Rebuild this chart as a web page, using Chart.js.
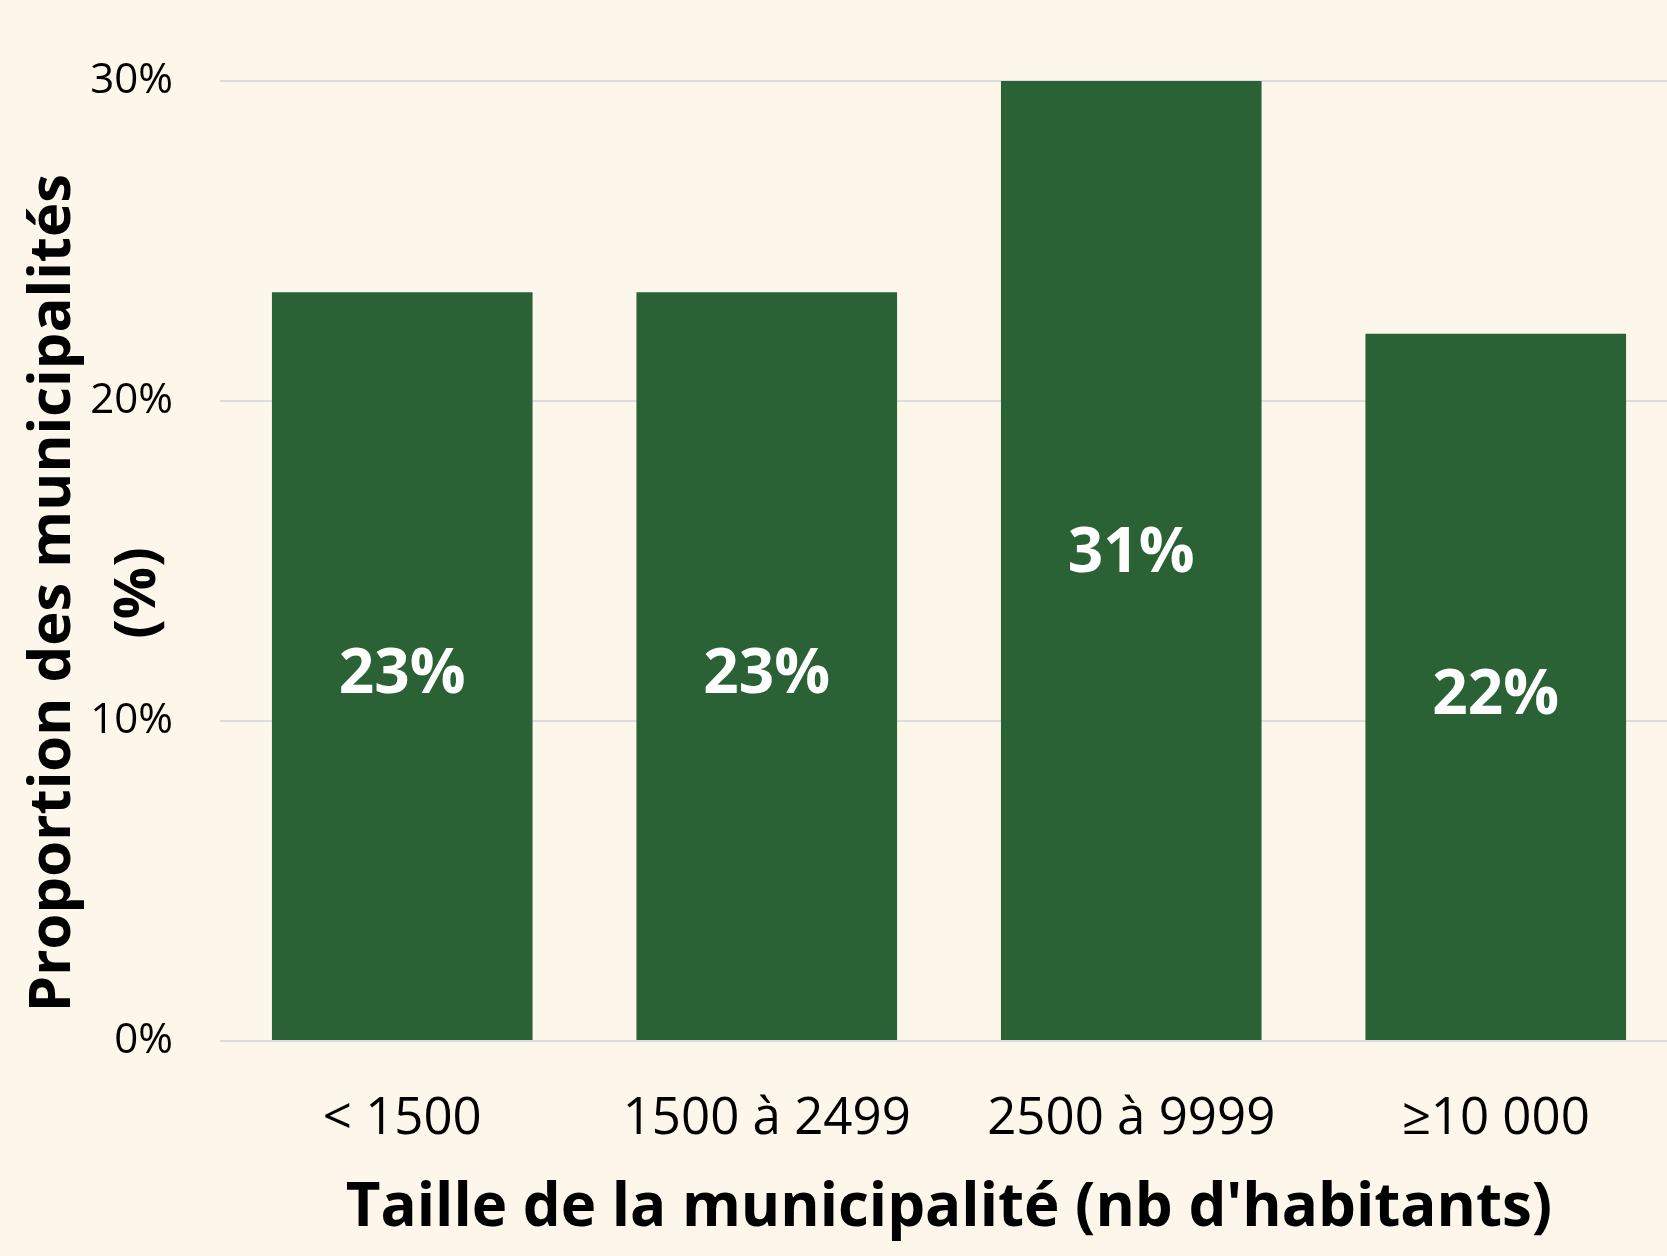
<!DOCTYPE html>
<html>
<head>
<meta charset="utf-8">
<script src="https://cdn.jsdelivr.net/npm/chart.js@4.4.0/dist/chart.umd.min.js"></script>
<style>
  html, body { margin: 0; padding: 0; overflow: hidden; background: #fdf7eb; }
  #wrap { width: 1678px; height: 1256px; }
</style>
</head>
<body>
<div id="wrap"><canvas id="graphique"></canvas></div>
<script>
const CATEGORIES = ['< 1500', '1500 à 2499', '2500 à 9999', '≥10 000'];
const PROPORTIONS = [23.4, 23.4, 31.0, 22.1];
const Y_TICKS = [0, 10, 20, 30];

const VERT = '#2a6135';
const POLICE = "'Open Sans', 'Noto Sans', sans-serif";

// etiquettes blanches au milieu des barres
const etiquettes = {
  id: 'etiquettes',
  afterDatasetsDraw(chart) {
    const ctx = chart.ctx;
    const y = chart.scales.y;
    ctx.save();
    ctx.font = 'bold 62px ' + POLICE;
    ctx.fillStyle = '#ffffff';
    ctx.textAlign = 'center';
    ctx.textBaseline = 'middle';
    chart.getDatasetMeta(0).data.forEach((bar, i) => {
      const v = PROPORTIONS[i];
      ctx.fillText(Math.round(v) + '%', bar.x, y.getPixelForValue(v / 2) + 9);
    });
    ctx.restore();
  }
};

// titre de l'axe Y (deux lignes)
const titreY = {
  id: 'titreY',
  afterDraw(chart) {
    const ctx = chart.ctx;
    ctx.save();
    ctx.font = 'bold 58px ' + POLICE;
    ctx.fillStyle = '#000000';
    ctx.textAlign = 'center';
    ctx.textBaseline = 'middle';
    ctx.translate(0, 593);
    ctx.rotate(-Math.PI / 2);
    ctx.fillText('Proportion des municipalités', 0, 53);
    ctx.fillText('(%)', 0, 138);
    ctx.restore();
  }
};

new Chart(document.getElementById('graphique'), {
  type: 'bar',
  data: {
    labels: CATEGORIES,
    datasets: [{
      data: PROPORTIONS,
      backgroundColor: VERT,
      borderWidth: 0,
      categoryPercentage: 1,
      barPercentage: 0.715
    }]
  },
  options: {
    responsive: true,
    maintainAspectRatio: false,
    animation: false,
    layout: { padding: { top: 81, right: 0, left: 0, bottom: 0 } },
    plugins: {
      legend: { display: false },
      tooltip: { enabled: false }
    },
    scales: {
      x: {
        grid: { display: false, drawTicks: false },
        border: { display: false },
        ticks: {
          color: '#000000',
          font: { family: POLICE, size: 51 },
          padding: 48,
          maxRotation: 0
        },
        title: {
          display: true,
          text: "Taille de la municipalité (nb d'habitants)",
          color: '#000000',
          font: { family: POLICE, size: 60, weight: 'bold' },
          padding: { top: 0, bottom: 11 }
        },
        afterFit: s => { s.height = 215; }
      },
      y: {
        min: 0,
        max: 30,
        afterBuildTicks: s => { s.ticks = Y_TICKS.map(v => ({ value: v })); },
        grid: { color: '#dcdcdc', lineWidth: 2, drawTicks: false },
        border: { display: false },
        ticks: {
          color: '#000000',
          font: { family: POLICE, size: 42 },
          padding: 47,
          callback: v => v + '%'
        },
        afterFit: s => { s.width = 220; }
      }
    }
  },
  plugins: [etiquettes, titreY]
});
</script>
</body>
</html>
